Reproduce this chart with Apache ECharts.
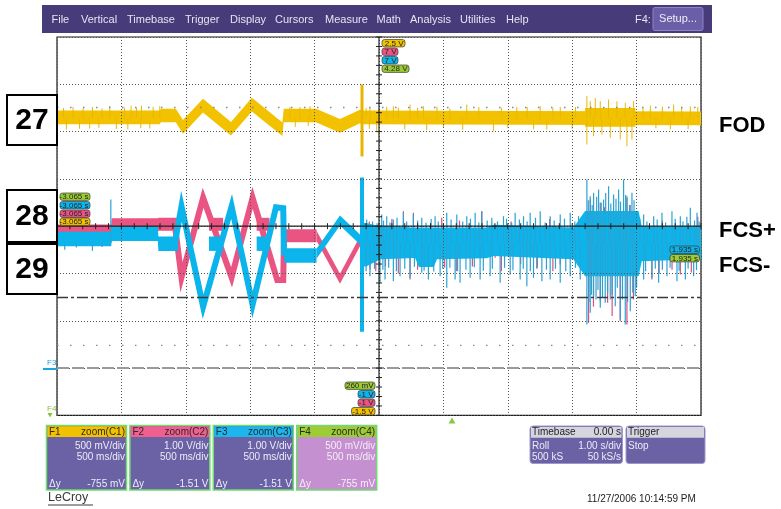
<!DOCTYPE html>
<html>
<head>
<meta charset="utf-8">
<script src="https://cdn.jsdelivr.net/npm/echarts@6/dist/echarts.min.js"></script>
<style>
  html, body { margin: 0; padding: 0; background: #ffffff; }
  #scope { width: 781px; height: 509px; }
</style>
</head>
<body>
<div id="scope"></div>
<script>
// Screen coordinates: x in horizontal divisions (0..10, 500 ms/div),
// y in vertical divisions (-4..4) about the centre graticule line.

// F1 = FOD trace, centre of the band
const fodTrace = [
  [0, 2.30], [1.596, 2.30], [1.612, 2.34], [1.845, 2.34], [1.956, 2.10],
  [2.267, 2.55], [2.702, 2.06], [3.026, 2.57], [3.50, 2.05], [3.52, 2.34],
  [4.021, 2.34], [4.394, 2.12], [4.705, 2.32], [4.736, 2.30], [10, 2.28]
];
// FOD burst section [x, low, high]
const fodBurst = [[8.20, 2.10, 2.50], [8.98, 2.10, 2.50]];
// FOD noise spikes [x, tip]
const fodSpikes = [
  [0.10, 2.50], [0.249, 2.523], [0.405, 2.495], [0.55, 2.52], [0.70, 2.49], [0.819, 2.537],
  [1.05, 2.51], [1.15, 2.55], [1.234, 2.502], [1.311, 2.551], [1.493, 2.523], [1.596, 2.537],
  [3.617, 2.523], [3.772, 2.523], [3.928, 2.537],
  [0.146, 2.044], [0.35, 2.06], [0.508, 2.065], [0.65, 2.08], [0.922, 2.058], [1.10, 2.05],
  [1.30, 2.07], [1.441, 2.065], [3.70, 2.10], [3.90, 2.12],
  [4.80, 2.50], [4.861, 2.502], [5.12, 2.523], [5.223, 2.537], [5.30, 2.51], [5.482, 2.572],
  [5.60, 2.50], [5.689, 2.537], [5.90, 2.53], [6.10, 2.49], [6.363, 2.572], [6.55, 2.52],
  [6.90, 2.50], [7.140, 2.523], [7.30, 2.52], [7.503, 2.537], [7.70, 2.50], [7.814, 2.523],
  [8.05, 2.52], [8.228, 2.749], [8.280, 2.643], [8.358, 2.713], [8.436, 2.643],
  [8.565, 2.678], [8.695, 2.643], [8.824, 2.608], [8.954, 2.643], [9.10, 2.50],
  [9.213, 2.551], [9.40, 2.53], [9.575, 2.572], [9.70, 2.50], [9.834, 2.537], [9.95, 2.52],
  [4.85, 2.06], [4.964, 2.009], [5.40, 2.05], [5.741, 2.030], [6.00, 2.08], [6.30, 2.04],
  [6.777, 2.009], [7.00, 2.07], [7.40, 2.05], [7.606, 2.044], [8.00, 2.06], [8.228, 1.727],
  [8.332, 1.903], [8.461, 1.938], [8.591, 1.868], [8.746, 1.832], [8.850, 1.691],
  [8.928, 1.832], [9.30, 2.07], [9.524, 2.044], [9.80, 2.05]
];
// FOD glitch [x, low, high]
const fodGlitch = [4.736, 1.474, 2.996];

// F2 = FCS+ (pink): level pieces, diamond and triangle sweep
const fcsPlusLevels = [
  [[0, -0.10], [0.842, -0.10], [0.85, 0.03], [1.565, 0.03], [1.575, 0.04], [1.88, 0.04]],
  [[2.36, 0.04], [2.58, 0.04]],
  [[3.10, 0.04], [3.30, 0.04]],
  [[3.53, -0.20], [4.03, -0.20]]
];
const fcsPlusDiamond = [[4.03, -0.20], [4.394, -1.11], [4.705, -0.32]];
const fcsPlusSweep = [
  [1.829, 0.04], [1.933, -1.08], [2.269, 0.60], [2.711, -1.08], [3.037, 0.60],
  [3.42, -1.14], [3.513, -1.14], [3.525, -0.20]
];
const fcsPlusSpikes = [
  [4.85, 0.10], [5.20, 0.15], [5.379, 0.318], [5.534, 0.282], [5.974, 0.177], [6.25, 0.12],
  [6.596, 0.318], [7.05, 0.10], [7.65, 0.15], [8.280, 0.564], [8.436, 0.494], [8.50, 0.40],
  [8.695, 0.318], [8.850, 0.599], [8.90, 0.45], [9.40, 0.12], [9.95, 0.20],
  [4.860, -0.916], [4.95, -0.95], [5.10, -0.85], [5.30, -1.00], [5.482, -1.127],
  [5.60, -0.92], [5.70, -0.75], [5.793, -0.669], [6.02, -0.88], [6.20, -0.95], [6.45, -0.85],
  [6.803, -0.669], [6.90, -0.95], [7.20, -0.80], [7.45, -0.90], [7.70, -0.95], [7.814, -0.810],
  [8.254, -2.043], [8.33, -1.70], [8.436, -1.585], [8.55, -1.62], [8.62, -1.90],
  [8.746, -2.008], [8.850, -2.079], [8.95, -1.55], [9.238, -1.127], [9.35, -1.00],
  [9.55, -0.92], [9.679, -1.021], [9.85, -0.98]
];

// F3 = FCS- (blue): level pieces, diamond and triangle sweep
const fcsMinusLevels = [
  [[0, -0.27], [0.842, -0.27], [0.85, -0.16], [1.565, -0.16], [1.575, -0.37], [1.88, -0.37]],
  [[2.36, -0.37], [2.58, -0.37]],
  [[3.10, -0.37], [3.30, -0.37]],
  [[3.53, -0.62], [4.03, -0.62]]
];
const fcsMinusDiamond = [[4.03, -0.58], [4.394, 0.12], [4.705, -0.28]];
const fcsMinusSweep = [
  [1.829, -0.37], [1.933, 0.42], [2.269, -1.70], [2.711, 0.42], [3.037, -1.66],
  [3.40, 0.40], [3.513, 0.38], [3.525, -0.62]
];
// FCS- noisy section envelope [x, low, high]
const fcsMinusNoise = [
  [4.74, -0.85, 0.07], [4.80, -0.85, 0.07], [5.02, -0.70, 0.0], [5.56, -0.67, -0.03],
  [5.62, -0.86, -0.03], [5.85, -0.86, -0.03], [5.90, -0.70, -0.03], [6.67, -0.68, -0.03],
  [6.78, -0.63, 0.03], [8.02, -0.70, -0.03], [8.20, -1.06, 0.32], [9.03, -1.06, 0.32],
  [9.08, -0.74, 0.0], [10.0, -0.70, 0.0]
];
const fcsMinusSpikes = [
  [0.836, 0.564], [0.12, -0.50], [0.30, -0.45], [0.55, -0.52], [0.70, -0.44],
  [4.809, 0.141], [4.90, 0.10], [4.97, 0.06], [5.042, 0.247], [5.07, 0.12], [5.120, 0.212],
  [5.17, 0.08], [5.223, 0.141], [5.28, 0.18], [5.379, 0.282], [5.43, 0.10], [5.534, 0.247],
  [5.60, 0.12], [5.664, 0.177], [5.73, 0.08], [5.81, 0.15], [5.871, 0.212], [5.92, 0.10],
  [6.00, 0.06], [6.052, 0.282], [6.12, 0.14], [6.208, 0.247], [6.30, 0.10], [6.363, 0.212],
  [6.42, 0.16], [6.493, 0.282], [6.55, 0.08], [6.596, 0.318], [6.68, 0.12], [6.752, 0.177],
  [6.84, 0.10], [6.933, 0.212], [6.98, 0.16], [7.06, 0.08], [7.114, 0.282], [7.18, 0.14],
  [7.244, 0.212], [7.30, 0.10], [7.347, 0.282], [7.43, 0.18], [7.503, 0.318], [7.58, 0.08],
  [7.658, 0.212], [7.72, 0.12], [7.814, 0.247], [7.88, 0.16], [7.969, 0.282], [8.04, 0.10],
  [8.099, 0.212], [8.228, 0.987], [8.25, 0.55], [8.280, 0.635], [8.31, 0.45], [8.332, 0.705],
  [8.38, 0.62], [8.410, 0.776], [8.45, 0.50], [8.487, 0.564], [8.52, 0.70], [8.565, 0.846],
  [8.60, 0.48], [8.643, 0.670], [8.68, 0.58], [8.721, 0.776], [8.75, 0.52], [8.798, 0.987],
  [8.83, 0.66], [8.850, 0.635], [8.89, 0.45], [8.928, 0.705], [8.96, 0.55], [9.05, 0.16],
  [9.109, 0.247], [9.16, 0.10], [9.265, 0.212], [9.32, 0.14], [9.394, 0.282], [9.45, 0.08],
  [9.549, 0.318], [9.60, 0.16], [9.679, 0.212], [9.72, 0.10], [9.78, 0.20], [9.834, 0.388],
  [9.90, 0.12], [9.938, 0.282], [9.97, 0.10],
  [4.757, -0.986], [4.80, -0.95], [4.860, -1.057], [4.93, -0.90], [5.016, -1.198],
  [5.06, -0.92], [5.094, -1.127], [5.15, -0.88], [5.223, -1.162], [5.27, -0.95],
  [5.327, -1.057], [5.40, -0.90], [5.482, -1.092], [5.55, -0.86], [5.664, -0.986],
  [5.70, -0.94], [5.767, -1.127], [5.85, -0.96], [5.949, -1.057], [5.99, -0.90],
  [6.052, -1.303], [6.10, -0.88], [6.182, -1.127], [6.22, -0.95], [6.259, -1.198],
  [6.35, -0.92], [6.415, -1.092], [6.48, -0.87], [6.570, -1.127], [6.62, -0.94],
  [6.726, -1.057], [6.76, -0.90], [6.881, -1.198], [6.95, -0.88], [7.037, -1.021],
  [7.08, -0.93], [7.192, -1.127], [7.24, -0.90], [7.296, -1.268], [7.35, -0.95],
  [7.399, -1.092], [7.46, -0.88], [7.529, -1.162], [7.60, -0.92], [7.658, -1.127],
  [7.74, -0.90], [7.814, -1.198], [7.90, -0.95], [7.969, -1.057], [8.05, -0.88],
  [8.125, -1.127], [8.228, -2.079], [8.26, -1.60], [8.280, -1.832], [8.30, -1.45],
  [8.332, -1.480], [8.37, -1.55], [8.40, -1.35], [8.436, -1.726], [8.47, -1.50],
  [8.513, -1.620], [8.55, -1.40], [8.591, -1.550], [8.62, -1.45], [8.669, -1.691],
  [8.70, -1.30], [8.746, -1.973], [8.78, -1.55], [8.824, -2.079], [8.86, -1.60],
  [8.902, -1.797], [8.94, -1.40], [8.979, -1.480], [9.00, -1.30], [9.109, -1.127],
  [9.14, -0.95], [9.238, -1.092], [9.29, -0.90], [9.342, -1.198], [9.40, -0.92],
  [9.472, -1.057], [9.52, -0.88], [9.627, -1.162], [9.66, -0.94], [9.757, -1.127],
  [9.80, -0.90], [9.886, -1.057], [9.93, -0.93]
];
const fcsMinusGlitch = [4.736, -2.23, 1.03];

// Horizontal reference levels (divisions)
const cursorLevel = -1.507;
const markerLevels = [2.51, -2.52];
const f3Level = -3;

const FONT = '"Liberation Sans", Arial, sans-serif';
const YELLOW = '#f2c200', PINK = '#ea5482', BLUE = '#0bb5ec', GREEN = '#9ccb34';
const PANEL = '#6b61a5';

// polygon(s) around centre lines with a fixed vertical half-thickness (px)
function band(pieces, half, color, z) {
  return {
    type: 'custom', z, silent: true, data: pieces.map((p, i) => i),
    renderItem(params, api) {
      const points = pieces[params.dataIndex];
      const top = points.map(p => { const c = api.coord(p); return [c[0], c[1] - half]; });
      const bot = points.map(p => { const c = api.coord(p); return [c[0], c[1] + half]; }).reverse();
      return { type: 'polygon', shape: { points: top.concat(bot) }, style: { fill: color } };
    }
  };
}
// polygon between explicit low/high envelopes
function envelope(rows, color, z) {
  return {
    type: 'custom', z, silent: true, data: [0],
    renderItem(params, api) {
      const top = rows.map(r => api.coord([r[0], r[2]]));
      const bot = rows.map(r => api.coord([r[0], r[1]])).reverse();
      return { type: 'polygon', shape: { points: top.concat(bot) }, style: { fill: color } };
    }
  };
}
// vertical spikes from a base level to each tip
function spikes(rows, base, color, width, z) {
  return {
    type: 'custom', z, silent: true, data: rows,
    renderItem(params, api) {
      const a = api.coord([api.value(0), base]);
      const b = api.coord([api.value(0), api.value(1)]);
      return { type: 'line', shape: { x1: a[0], y1: a[1], x2: b[0], y2: b[1] }, style: { stroke: color, lineWidth: width } };
    }
  };
}
function glitch(g, color, width, z) {
  return {
    type: 'custom', z, silent: true, data: [g],
    renderItem(params, api) {
      const a = api.coord([api.value(0), api.value(1)]);
      const b = api.coord([api.value(0), api.value(2)]);
      return { type: 'line', shape: { x1: a[0], y1: a[1], x2: b[0], y2: b[1] }, style: { stroke: color, lineWidth: width } };
    }
  };
}
function sweep(points, color, width, z) {
  return { type: 'line', data: points, z, symbol: 'none', silent: true,
    lineStyle: { color, width, join: 'miter' }, animation: false };
}

// reference lines and centre graticule with minor ticks
const guides = {
  type: 'custom', z: 20, silent: true, data: [0],
  renderItem(params, api) {
    const kids = [];
    const hline = (y, style) => {
      const a = api.coord([0, y]), b = api.coord([10, y]);
      kids.push({ type: 'line', shape: { x1: a[0], y1: a[1], x2: b[0], y2: b[1] }, style });
    };
    hline(cursorLevel, { stroke: '#3a3a3a', lineWidth: 1.3, lineDash: [11, 3, 3, 3] });
    markerLevels.forEach(v => hline(v, { stroke: '#888', lineWidth: 1.4, lineDash: [1.5, 11.5] }));
    hline(f3Level, { stroke: '#9a9a9a', lineWidth: 2, lineDash: [12, 3] });
    const c0 = api.coord([5, -4]), c1 = api.coord([5, 4]);
    kids.push({ type: 'line', shape: { x1: c0[0], y1: c0[1], x2: c1[0], y2: c1[1] }, style: { stroke: '#222', lineWidth: 1.2 } });
    hline(0, { stroke: '#222', lineWidth: 1.2 });
    for (let i = 0; i <= 50; i++) {
      const p = api.coord([i * 0.2, 0]);
      kids.push({ type: 'line', shape: { x1: p[0], y1: p[1] - 3, x2: p[0], y2: p[1] + 3 }, style: { stroke: '#222', lineWidth: 1 } });
    }
    for (let j = -20; j <= 20; j++) {
      const p = api.coord([5, j * 0.2]);
      kids.push({ type: 'line', shape: { x1: p[0] - 3, y1: p[1], x2: p[0] + 3, y2: p[1] }, style: { stroke: '#222', lineWidth: 1 } });
    }
    return { type: 'group', children: kids };
  }
};

// ---------- screen furniture ----------
const G = [];
const text = (t, x, y, size, color, align, weight) => G.push({
  type: 'text', x, y, z: 200, silent: true,
  style: { text: t, font: `${weight || 'normal'} ${size}px ${FONT}`, fill: color, align: align || 'left', verticalAlign: 'middle' }
});
const rect = (x, y, w, h, fill, stroke, lw, r) => G.push({
  type: 'rect', z: 190, silent: true, shape: { x, y, width: w, height: h, r: r || 0 },
  style: { fill, stroke: stroke || null, lineWidth: lw || 0 }
});
const tag = (t, x, y, w, fill) => { rect(x, y, w, 7.4, fill, '#3a3a3a', 0.7, 2.5); text(t, x + w - 1.5, y + 3.9, 8, '#222', 'right'); };

// menu bar
rect(42, 5, 670, 28, '#483b7a');
[['File', 51.5], ['Vertical', 81], ['Timebase', 127], ['Trigger', 185], ['Display', 230],
 ['Cursors', 275], ['Measure', 325], ['Math', 376.5], ['Analysis', 410], ['Utilities', 460],
 ['Help', 506], ['F4:', 635]].forEach(m => text(m[0], m[1], 19.5, 11, '#e6e4f2'));
rect(653, 7.5, 50, 23, '#6a5fa6', '#8c84c6', 1, 2);
text('Setup...', 678, 19, 11, '#eeeefa', 'center');

// channel number boxes
[['27', 95, 50], ['28', 190, 52], ['29', 244, 50]].forEach(b => {
  rect(7, b[1], 50, b[2], '#ffffff', '#000', 2);
  text(b[0], 32, b[1] + b[2] / 2 + 1, 30, '#000', 'center', 'bold');
});
text('FOD', 719, 126, 22, '#000', 'left', 'bold');
text('FCS+', 719, 231, 22, '#000', 'left', 'bold');
text('FCS-', 719, 266, 22, '#000', 'left', 'bold');

// cursor read-outs
tag('2.5 V', 382, 39.5, 23, YELLOW);
tag('7 V', 382, 48, 16, PINK);
tag('7 V', 382, 56.5, 16, BLUE);
tag('4.28 V', 382, 65, 27, GREEN);
tag('-3.065 s', 60, 193, 30, GREEN);
tag('-3.065 s', 60, 201.5, 30, BLUE);
tag('-3.065 s', 60, 210, 30, PINK);
tag('-3.065 s', 60, 218, 30, YELLOW);
tag('1.935 s', 670, 246, 29.5, BLUE);
tag('1.935 s', 670, 254.5, 29.5, GREEN);
tag('260 mV', 345, 382, 30, GREEN);
tag('-1 V', 358, 390.5, 17, BLUE);
tag('-1 V', 358, 399, 17, PINK);
tag('-1.5 V', 351.5, 407.5, 23.5, YELLOW);

// trace markers at left edge
text('F3', 47, 363, 8, '#1aa6df');
G.push({ type: 'line', z: 200, silent: true, shape: { x1: 43, y1: 369, x2: 57, y2: 369 }, style: { stroke: '#1aa6df', lineWidth: 2 } });
text('F4', 47, 409, 8, '#8cc03a');
G.push({ type: 'polygon', z: 200, silent: true, shape: { points: [[47.5, 413], [52.5, 413], [50, 417.5]] }, style: { fill: '#8cc03a' } });
// trigger position marker
G.push({ type: 'polygon', z: 200, silent: true, shape: { points: [[448.5, 423.5], [455.5, 423.5], [452, 417.5]] }, style: { fill: '#8cc63f' } });

// function panels
const panels = [
  ['F1', 'zoom(C1)', '500 mV/div', '-755 mV', YELLOW, PANEL, '#ecebf8'],
  ['F2', 'zoom(C2)', '1.00 V/div', '-1.51 V', '#f0608e', PANEL, '#ecebf8'],
  ['F3', 'zoom(C3)', '1.00 V/div', '-1.51 V', '#1cb6ee', PANEL, '#ecebf8'],
  ['F4', 'zoom(C4)', '500 mV/div', '-755 mV', '#9ccd34', '#c490cf', '#f6ecf8']
];
panels.forEach((p, i) => {
  const x = 46.5 + i * 83.4;
  rect(x, 425.5, 80, 64.5, p[5], '#6fdc6f', 1.5);
  rect(x + 0.8, 426.3, 78.4, 10.6, p[4]);
  text(p[0], x + 2.5, 431.8, 10, '#2a2a2a');
  text(p[1], x + 78.5, 431.8, 10, '#2a2a2a', 'right');
  text(p[2], x + 78.5, 445.8, 10, p[6], 'right');
  text('500 ms/div', x + 78.5, 456.8, 10, p[6], 'right');
  text('\u0394y', x + 2.5, 484.3, 10, p[6]);
  text(p[3], x + 78.5, 484.3, 10, p[6], 'right');
});
// timebase and trigger panels
rect(530, 426, 92.5, 37.5, PANEL, '#9f98cf', 1, 3);
rect(531, 427, 90.5, 10.8, '#d6d5de');
text('Timebase', 532, 432.4, 10, '#222');
text('0.00 s', 621, 432.4, 10, '#222', 'right');
text('Roll', 532, 445.8, 10, '#ecebf8');
text('1.00 s/div', 621, 445.8, 10, '#ecebf8', 'right');
text('500 kS', 532, 457.3, 10, '#ecebf8');
text('50 kS/s', 621, 457.3, 10, '#ecebf8', 'right');
rect(626, 426, 79, 37.5, PANEL, '#9f98cf', 1, 3);
rect(627, 427, 77, 10.8, '#d6d5de');
text('Trigger', 628, 432.4, 10, '#222');
text('Stop', 628, 445.8, 10, '#ecebf8');

text('LeCroy', 48, 498, 12.5, '#3a3a3a');
G.push({ type: 'line', z: 200, silent: true, shape: { x1: 48, y1: 505, x2: 93, y2: 505 }, style: { stroke: '#3a3a3a', lineWidth: 1 } });
text('11/27/2006 10:14:59 PM', 587, 499.5, 10, '#222');

const chart = echarts.init(document.getElementById('scope'), null, { renderer: 'canvas' });
chart.setOption({
  animation: false,
  backgroundColor: '#ffffff',
  grid: { left: 57, top: 37, width: 644, height: 378.4, show: true, borderColor: '#1a1a1a', borderWidth: 1.2, backgroundColor: '#ffffff' },
  xAxis: {
    type: 'value', min: 0, max: 10, interval: 1, z: 15,
    axisLine: { show: false }, axisTick: { show: false }, axisLabel: { show: false },
    splitLine: { show: true, lineStyle: { color: '#555', width: 1, type: [1, 2] } }
  },
  yAxis: {
    type: 'value', min: -4, max: 4, interval: 1, z: 15,
    axisLine: { show: false }, axisTick: { show: false }, axisLabel: { show: false },
    splitLine: { show: true, lineStyle: { color: '#555', width: 1, type: [1, 2] } }
  },
  graphic: { elements: G },
  series: [
    // FOD
    band([fodTrace], 6.8, YELLOW, 3),
    envelope(fodBurst, YELLOW, 3),
    spikes(fodSpikes, 2.28, '#e8b800', 1, 3),
    glitch(fodGlitch, '#e8b400', 3, 3),
    // FCS+ under FCS-
    band(fcsPlusLevels, 6.5, PINK, 4),
    band([fcsPlusDiamond], 5, PINK, 4),
    sweep(fcsPlusSweep, PINK, 6, 5),
    spikes(fcsPlusSpikes, -0.3, '#d8507e', 1.2, 4),
    band(fcsMinusLevels, 7.2, BLUE, 6),
    band([fcsMinusDiamond], 5, BLUE, 6),
    sweep(fcsMinusSweep, BLUE, 6, 7),
    envelope(fcsMinusNoise, BLUE, 6),
    spikes(fcsMinusSpikes, -0.35, '#2aa3d3', 1.2, 6),
    glitch(fcsMinusGlitch, BLUE, 4, 8),
    guides
  ]
});
</script>
</body>
</html>
